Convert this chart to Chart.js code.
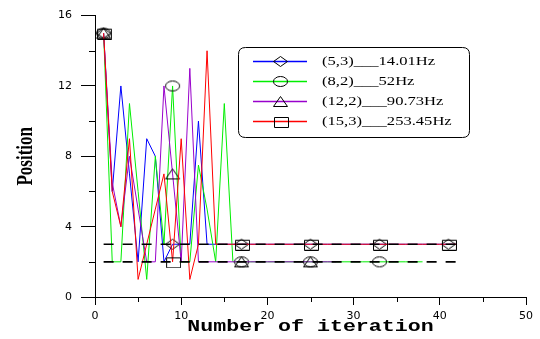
<!DOCTYPE html>
<html><head><meta charset="utf-8">
<script src="https://cdn.jsdelivr.net/npm/chart.js@4/dist/chart.umd.min.js"></script>
<style>html,body{margin:0;padding:0;background:#fff;overflow:hidden}</style>
</head><body>
<canvas id="c" width="540" height="339" style="width:540px;height:339px;display:block"></canvas>
<script>
// ---- data ----
const seriesNames = ['(5,3)___14.01Hz', '(8,2)___52Hz', '(12,2)___90.73Hz', '(15,3)___253.45Hz'];
const seriesColors = ['#0000ff', '#00ee00', '#9900cc', '#ff0000'];
const seriesMarkers = ['diamond', 'circle', 'triangle', 'square'];
const mode53 = [15, 6, 12, 7, 2, 9, 8, 2, 3, 3, 3, 10, 3, 3, 3, 3, 3, 3, 3, 3, 3, 3, 3, 3, 3, 3, 3, 3, 3, 3, 3, 3, 3, 3, 3, 3, 3, 3, 3, 3, 3, 3];
const mode82 = [15, 2, 2, 11, 6, 1, 8, 3, 12, 2, 2, 7.5, 5, 2, 11, 2, 2, 2, 2, 2, 2, 2, 2, 2, 2, 2, 2, 2, 2, 2, 2, 2, 2, 2, 2, 2, 2, 2];
const mode122 = [15, 6.5, 4, 8, 5, 2, 2, 12, 7, 2, 13, 2, 2, 2, 2, 2, 2, 2, 2, 2, 2, 2, 2, 2, 2, 2, 2, 2];
const mode153 = [15, 6, 4, 9, 1, 3, 5, 7, 2, 9, 1, 3, 14, 3, 3, 3, 3, 3, 3, 3, 3, 3, 3, 3, 3, 3, 3, 3, 3, 3, 3, 3, 3, 3, 3, 3, 3, 3, 3, 3, 3, 3];
const refLevels = [3, 2];
const refRange = [1, 42];
const xTicksMajor = [0, 10, 20, 30, 40, 50];
const yTicksMajor = [0, 4, 8, 12, 16];
const xTicksMinor = [5, 15, 25, 35, 45];
const yTicksMinor = [2, 6, 10, 14];
const xTitle = 'Number of iteration';
const yTitle = 'Position';
const markerEvery = 8;

// ---- marker images ----
function makeMarker(kind) {
  const w = 17, h = 13;
  const c = document.createElement('canvas');
  c.width = w; c.height = h;
  const g = c.getContext('2d');
  g.strokeStyle = '#000'; g.lineWidth = 1;
  const cx = w / 2, cy = h / 2, rx = 7, ry = 5;
  g.beginPath();
  if (kind === 'diamond') {
    g.moveTo(cx - rx, cy); g.lineTo(cx, cy - ry); g.lineTo(cx + rx, cy); g.lineTo(cx, cy + ry); g.closePath();
  } else if (kind === 'circle') {
    g.ellipse(cx, cy, rx, ry, 0, 0, Math.PI * 2);
  } else if (kind === 'triangle') {
    g.moveTo(cx - rx, cy + ry); g.lineTo(cx, cy - ry); g.lineTo(cx + rx, cy + ry); g.closePath();
  } else {
    g.rect(Math.round(cx - rx) + 0.5, Math.round(cy - ry) + 0.5, 2 * rx, 2 * ry);
  }
  g.stroke();
  return c;
}
const markerImgs = seriesMarkers.map(makeMarker);

const allSeries = [mode53, mode82, mode122, mode153];
const toPts = arr => arr.map((v, i) => ({ x: i + 1, y: v }));

const datasets = allSeries.map((arr, k) => ({
  label: seriesNames[k],
  data: toPts(arr),
  borderColor: seriesColors[k],
  backgroundColor: 'transparent',
  borderWidth: 1,
  tension: 0,
  pointStyle: markerImgs[k],
  pointRadius: ctx => (ctx.dataIndex % markerEvery === 0 ? 6 : 0),
  pointHoverRadius: 0,
  order: 10 - k
}));
refLevels.forEach(lv => {
  datasets.push({
    label: 'ref' + lv,
    data: refRange.map(x => ({ x: x, y: lv })),
    borderColor: '#000',
    borderWidth: 1.6,
    borderDash: [10, 9],
    pointRadius: 0,
    order: 1
  });
});

const deco = {
  id: 'deco',
  afterDraw(chart) {
    const ctx = chart.ctx, xs = chart.scales.x, ys = chart.scales.y, a = chart.chartArea;
    ctx.save();
    ctx.setLineDash([]);
    ctx.strokeStyle = '#000'; ctx.lineWidth = 1;
    yTicksMinor.forEach(v => {
      const p = Math.round(ys.getPixelForValue(v)) + 0.5;
      ctx.beginPath(); ctx.moveTo(a.left - 6, p); ctx.lineTo(a.left, p); ctx.stroke();
    });
    xTicksMinor.forEach(v => {
      const p = Math.round(xs.getPixelForValue(v)) + 0.5;
      ctx.beginPath(); ctx.moveTo(p, a.bottom); ctx.lineTo(p, a.bottom + 5); ctx.stroke();
    });
    // axis titles
    ctx.fillStyle = '#000';
    ctx.textAlign = 'center'; ctx.textBaseline = 'middle';
    ctx.save();
    ctx.translate((a.left + a.right) / 2, 327);
    ctx.scale(1.35, 1);
    ctx.font = 'bold 16px "Liberation Mono", "Courier New", monospace';
    ctx.fillText(xTitle, 0, 0);
    ctx.restore();
    ctx.save();
    ctx.translate(26, (a.top + a.bottom) / 2);
    ctx.rotate(-Math.PI / 2);
    ctx.scale(1, 1.3);
    ctx.font = 'bold 17px "Liberation Serif", "Times New Roman", serif';
    ctx.fillText(yTitle, 0, 0);
    ctx.restore();
    // legend
    const bx = 238.5, by = 47.5, bw = 231, bh = 90, r = 7;
    ctx.beginPath();
    ctx.moveTo(bx + r, by); ctx.lineTo(bx + bw - r, by); ctx.quadraticCurveTo(bx + bw, by, bx + bw, by + r);
    ctx.lineTo(bx + bw, by + bh - r); ctx.quadraticCurveTo(bx + bw, by + bh, bx + bw - r, by + bh);
    ctx.lineTo(bx + r, by + bh); ctx.quadraticCurveTo(bx, by + bh, bx, by + bh - r);
    ctx.lineTo(bx, by + r); ctx.quadraticCurveTo(bx, by, bx + r, by);
    ctx.closePath();
    ctx.fillStyle = '#fff'; ctx.fill();
    ctx.strokeStyle = '#000'; ctx.lineWidth = 1; ctx.stroke();
    seriesNames.forEach((name, k) => {
      const y = 61.5 + k * 20;
      ctx.save();
      ctx.setLineDash([]);
      ctx.strokeStyle = seriesColors[k]; ctx.lineWidth = 1.3;
      ctx.beginPath(); ctx.moveTo(253, y); ctx.lineTo(307, y); ctx.stroke();
      ctx.restore();
      const img = markerImgs[k];
      ctx.drawImage(img, Math.round(280.5 - img.width / 2), Math.round(y - img.height / 2));
      ctx.save();
      ctx.translate(322, y + 0.5);
      ctx.scale(1.38, 1);
      ctx.fillStyle = '#000';
      ctx.textAlign = 'left'; ctx.textBaseline = 'middle';
      ctx.font = '12px "Liberation Serif", "Times New Roman", serif';
      ctx.fillText(name, 0, 0);
      ctx.restore();
    });
    ctx.restore();
  }
};

new Chart(document.getElementById('c'), {
  type: 'line',
  data: { datasets },
  options: {
    responsive: false,
    animation: false,
    events: [],
    layout: { padding: { top: 10, right: 14, left: 0, bottom: 0 } },
    plugins: { legend: { display: false }, tooltip: { enabled: false } },
    scales: {
      x: {
        type: 'linear', min: 0, max: 50,
        afterFit: s => { s.height = 42; },
        afterBuildTicks: s => { s.ticks = xTicksMajor.map(v => ({ value: v })); },
        grid: { display: true, drawOnChartArea: false, drawTicks: true, tickLength: 8, color: '#000', tickWidth: 1 },
        border: { display: true, color: '#000', width: 1 },
        ticks: { color: '#000', padding: 5, maxRotation: 0, font: { family: '"DejaVu Sans", sans-serif', size: 11 } }
      },
      y: {
        type: 'linear', min: 0, max: 16,
        afterFit: s => { s.width = 95; },
        afterBuildTicks: s => { s.ticks = yTicksMajor.map(v => ({ value: v })); },
        grid: { display: true, drawOnChartArea: false, drawTicks: true, tickLength: 14, color: '#000', tickWidth: 1 },
        border: { display: true, color: '#000', width: 1 },
        ticks: { color: '#000', padding: 9, font: { family: '"DejaVu Sans", sans-serif', size: 11 } }
      }
    }
  },
  plugins: [deco]
});
</script>
</body></html>
